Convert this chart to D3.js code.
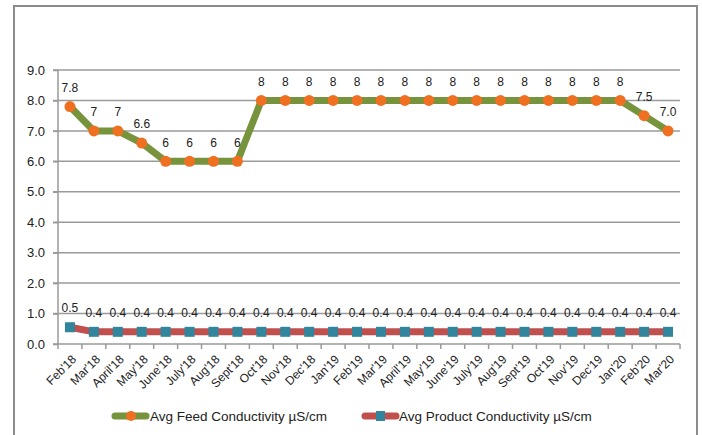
<!DOCTYPE html>
<html><head><meta charset="utf-8">
<script src="https://cdn.jsdelivr.net/npm/d3@7"></script>
<style>body{margin:0;background:#fff}svg{display:block;font-family:"Liberation Sans",Arial,sans-serif}</style>
</head><body><svg id="c" width="702" height="435"></svg>
<script>
const categories = ["Feb'18","Mar'18","April'18","May'18","June'18","July'18","Aug'18","Sept'18","Oct'18","Nov'18","Dec'18","Jan'19","Feb'19","Mar'19","April'19","May'19","June'19","July'19","Aug'19","Sept'19","Oct'19","Nov'19","Dec'19","Jan'20","Feb'20","Mar'20"];
const feedValues = [7.8,7,7,6.6,6,6,6,6,8,8,8,8,8,8,8,8,8,8,8,8,8,8,8,8,7.5,7.0];
const feedLabels = ["7.8","7","7","6.6","6","6","6","6","8","8","8","8","8","8","8","8","8","8","8","8","8","8","8","8","7.5","7.0"];
const productValues = [0.55,0.4,0.4,0.4,0.4,0.4,0.4,0.4,0.4,0.4,0.4,0.4,0.4,0.4,0.4,0.4,0.4,0.4,0.4,0.4,0.4,0.4,0.4,0.4,0.4,0.4];
const productLabels = ["0.5","0.4","0.4","0.4","0.4","0.4","0.4","0.4","0.4","0.4","0.4","0.4","0.4","0.4","0.4","0.4","0.4","0.4","0.4","0.4","0.4","0.4","0.4","0.4","0.4","0.4"];
const yTicks = [0,1,2,3,4,5,6,7,8,9];
const seriesNames = ["Avg Feed Conductivity µS/cm","Avg Product Conductivity µS/cm"];

const svg = d3.select("#c");
const x = d3.scaleBand(categories,[58,680]);
const y = d3.scaleLinear([0,9],[344,70]);
const cx = d => x(d)+x.bandwidth()/2;

// frame
svg.append("path").attr("d","M14,440V6H697V440").attr("fill","none").attr("stroke","#8c8c8c").attr("stroke-width",2);

// gridlines
svg.append("g").selectAll("line").data(yTicks.filter(t=>t>0)).join("line")
  .attr("x1",53).attr("x2",680).attr("y1",d=>y(d)).attr("y2",d=>y(d))
  .attr("stroke","#9a9a9a").attr("stroke-width",1.5);

// y axis
const ya = svg.append("g").attr("transform","translate(58,0)").call(d3.axisLeft(y).tickValues(yTicks).tickFormat(d3.format(".1f")).tickSize(5).tickPadding(8));
ya.select(".domain").attr("stroke","#9a9a9a").attr("stroke-width",1.5).attr("d","M0,70V344");
ya.selectAll(".tick line").attr("stroke","#9a9a9a").attr("stroke-width",1.5);
ya.selectAll("text").attr("font-size",13).attr("fill","#222");

// x axis
const xa = svg.append("g").attr("transform","translate(0,344)").call(d3.axisBottom(x).tickSize(0).tickPadding(0));
xa.select(".domain").attr("stroke","#9a9a9a").attr("stroke-width",1.5).attr("d","M53,0H680");
xa.append("g").selectAll("line").data(categories.concat(["__end"])).join("line")
  .attr("x1",(d,i)=>58+i*x.step()).attr("x2",(d,i)=>58+i*x.step()).attr("y1",0).attr("y2",5)
  .attr("stroke","#9a9a9a").attr("stroke-width",1.5);
xa.selectAll(".tick text").attr("font-size",12).attr("fill","#222")
  .attr("text-anchor","end").attr("y",0).attr("transform","translate(4,13) rotate(-45)").attr("dy","0.35em").attr("dx","0");

const line = vals => d3.line().x((d,i)=>cx(categories[i])).y(d=>y(d))(vals);

// product
svg.append("path").attr("d",line(productValues)).attr("fill","none").attr("stroke","#C0504D").attr("stroke-width",7);
svg.append("g").selectAll("rect").data(productValues).join("rect")
  .attr("x",(d,i)=>cx(categories[i])-5).attr("y",d=>y(d)-5).attr("width",10).attr("height",10).attr("fill","#31859C");
// feed
svg.append("path").attr("d",line(feedValues)).attr("fill","none").attr("stroke","#77933C").attr("stroke-width",7);
svg.append("g").selectAll("circle").data(feedValues).join("circle")
  .attr("cx",(d,i)=>cx(categories[i])).attr("cy",d=>y(d)).attr("r",5.5).attr("fill","#F07022");

// labels
svg.append("g").selectAll("text").data(feedValues).join("text")
  .attr("x",(d,i)=>cx(categories[i])).attr("y",d=>y(d)-19).attr("dy","0.35em")
  .attr("text-anchor","middle").attr("font-size",12).attr("fill","#222").text((d,i)=>feedLabels[i]);
svg.append("g").selectAll("text").data(productValues).join("text")
  .attr("x",(d,i)=>cx(categories[i])).attr("y",d=>y(d)-19).attr("dy","0.35em")
  .attr("text-anchor","middle").attr("font-size",12).attr("fill","#222").text((d,i)=>productLabels[i]);

// legend
const lg = svg.append("g");
lg.append("line").attr("x1",115).attr("x2",146).attr("y1",416).attr("y2",416).attr("stroke","#77933C").attr("stroke-width",7).attr("stroke-linecap","round");
lg.append("circle").attr("cx",131).attr("cy",416).attr("r",5).attr("fill","#F07022");
lg.append("text").attr("x",150).attr("y",416).attr("dy","0.35em").attr("font-size",13.5).attr("fill","#222").text(seriesNames[0]);
lg.append("line").attr("x1",365).attr("x2",396).attr("y1",416).attr("y2",416).attr("stroke","#C0504D").attr("stroke-width",7).attr("stroke-linecap","round");
lg.append("rect").attr("x",376).attr("y",411).attr("width",9).attr("height",10).attr("fill","#31859C");
lg.append("text").attr("x",399).attr("y",416).attr("dy","0.35em").attr("font-size",13.5).attr("fill","#222").text(seriesNames[1]);
</script></body></html>
